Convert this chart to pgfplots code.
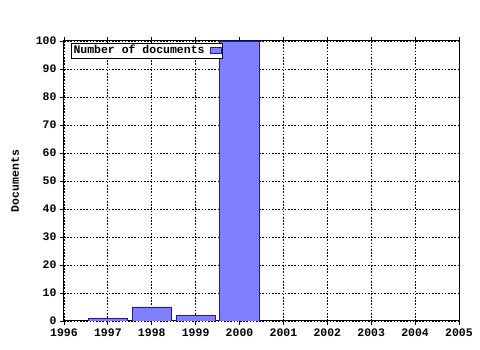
\documentclass[border=0pt]{standalone}
\usepackage{fontspec}
\setmainfont{Liberation Mono}
\usepackage{pgfplots}
\pgfplotsset{compat=1.18}
\definecolor{barfill}{HTML}{8080FF}
\definecolor{baredge}{HTML}{1A1AB0}
\begin{document}
\begin{tikzpicture}[x=1pt,y=1pt]
\useasboundingbox (0,0) rectangle (480,350);
\begin{axis}[
  at={(64pt,29pt)}, anchor=south west,
  scale only axis, width=395pt, height=280pt,
  xmin=1996, xmax=2005, ymin=0, ymax=100,
  xtick={1996,...,2005}, ytick={0,10,...,100},
  minor x tick num=5,
  tick align=outside,
  xtick pos=both, ytick pos=left,
  major tick length=4pt, minor tick length=2pt,
  tick style={black, line width=0.8pt},
  axis line style={line width=1pt},
  grid=major,
  major grid style={black, line width=0.8pt, dash pattern=on 1.6pt off 1.6pt},
  font=\bfseries\fontsize{11.5}{12}\selectfont,
  tick label style={font=\bfseries\fontsize{11.5}{12}\selectfont},
  /pgf/number format/assume math mode=true,
  xticklabel={\pgfmathprintnumber[1000 sep={},fixed]{\tick}},
  ylabel={Documents},
  every axis y label/.append style={at={(ticklabel cs:0.5)}, yshift=10pt},
  legend plot pos=right,
  legend style={at={(7pt,278pt)}, anchor=north west, draw=black, line width=0.8pt,
    inner sep=0.5pt, outer sep=0pt, font=\bfseries\fontsize{11.5}{12}\selectfont,
    row sep=0pt, column sep=3pt},
  legend cell align=left,
]
\addplot[ybar, bar width=0.9, fill=barfill, draw=baredge, line width=0.8pt,
  legend image code/.code={\draw[fill=barfill, draw=baredge, line width=0.8pt, solid] (0pt,-2.5pt) rectangle (11pt,3.5pt);}]
  coordinates {(1997,1) (1998,5) (1999,2) (2000,100)};
\addlegendentry{Number of documents}
\end{axis}
\end{tikzpicture}
\end{document}
